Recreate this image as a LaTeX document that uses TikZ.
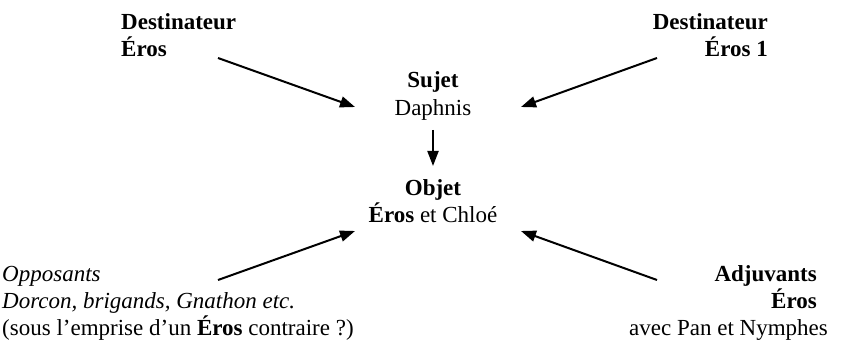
\documentclass[tikz,border=0pt]{standalone}
\usepackage{fontspec}
\setmainfont{Liberation Serif}
\usetikzlibrary{arrows.meta}
\begin{document}
\begin{tikzpicture}[x=1pt,y=-1pt,
  lbl/.style={inner sep=0pt,font=\fontsize{23}{27}\selectfont},
  arr/.style={line width=2pt,-{Triangle[length=15pt,width=11pt]}}]
\useasboundingbox (0,0) rectangle (846,344);
% Destinateur left
\node[lbl,anchor=base west] (dl1) at (121,30) {\textbf{Destinateur}};
\node[lbl,anchor=base west] (dl2) at (121,57) {\textbf{Éros}};
% Destinateur right
\node[lbl,anchor=base east] (dr1) at (768,30) {\textbf{Destinateur}};
\node[lbl,anchor=base east] (dr2) at (768,57) {\textbf{Éros 1}};
% Sujet
\node[lbl,anchor=base] (s1) at (433,88) {\textbf{Sujet}};
\node[lbl,anchor=base] (s2) at (433,116) {Daphnis};
% Objet
\node[lbl,anchor=base] (o1) at (433,196) {\textbf{Objet}};
\node[lbl,anchor=base] (o2) at (433,223) {\textbf{Éros} et Chloé};
% Opposants
\node[lbl,anchor=base west] (op1) at (2,282) {\textit{Opposants}};
\node[lbl,anchor=base west] (op2) at (2,309) {\textit{Dorcon, brigands, Gnathon etc.}};
\node[lbl,anchor=base west] (op3) at (2,336) {(sous l’emprise d’un \textbf{Éros} contraire ?)};
% Adjuvants
\node[lbl,anchor=base east] (ad1) at (817,282) {\textbf{Adjuvants}};
\node[lbl,anchor=base east] (ad2) at (817,309) {\textbf{Éros}};
\node[lbl,anchor=base east] (ad3) at (828,336) {avec Pan et Nymphes};
% arrow ends
\coordinate (tlA) at (218,58);  \coordinate (tlB) at (355,107);
\coordinate (trA) at (657,58);  \coordinate (trB) at (521,107);
\coordinate (blA) at (218,280); \coordinate (blB) at (355,231);
\coordinate (brA) at (657,280); \coordinate (brB) at (521,231);
\coordinate (dnA) at (433,130); \coordinate (dnB) at (433,166);
\draw[arr] (tlA) -- (tlB);
\draw[arr] (trA) -- (trB);
\draw[arr] (blA) -- (blB);
\draw[arr] (brA) -- (brB);
\draw[arr] (dnA) -- (dnB);
\end{tikzpicture}
\end{document}
